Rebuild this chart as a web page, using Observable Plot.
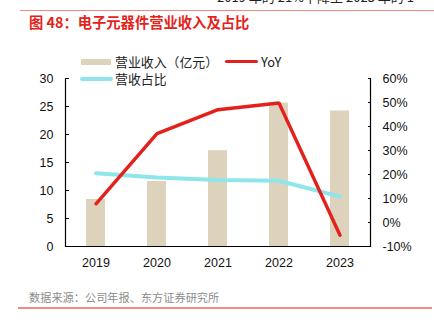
<!DOCTYPE html>
<html>
<head>
<meta charset="utf-8">
<script src="https://cdn.jsdelivr.net/npm/d3@7"></script>
<script src="https://cdn.jsdelivr.net/npm/@observablehq/plot@0.6"></script>
<style>
  html, body { margin: 0; padding: 0; background: #fff; }
  body { width: 434px; height: 326px; position: relative; overflow: hidden;
         font-family: "Liberation Sans", Arial, "Noto Sans CJK SC", sans-serif; }
  .abs { position: absolute; white-space: nowrap; }
  #chart { position: absolute; left: 0; top: 0; }
  .hr { position: absolute; height: 1.5px; background: #f08a84; }
  #title { left: 29px; top: 12px; font-size: 14.3px; font-weight: bold; color: #e3241b;
           font-family: "Noto Sans CJK SC", sans-serif; line-height: 20px; }
  #toptext { left: 217px; top: -10px; font-size: 13px; color: #222; font-family: "Noto Sans CJK SC", sans-serif; line-height: 14px; }
  #source { left: 29px; top: 290px; font-size: 11.2px; color: #8c8c8c; font-family: "Noto Sans CJK SC", sans-serif; line-height: 14px; }
  .legtext { font-size: 12.9px; color: #222; font-family: "Noto Sans CJK SC", sans-serif; line-height: 13px; }
  .sw { position: absolute; }
</style>
</head>
<body>
<div id="toptext" class="abs">2019 年的 21%下降至 2023 年的 1</div>
<div class="hr" style="left:20px; top:9.5px; width:414px;"></div>
<div id="title" class="abs">图 48：电子元器件营业收入及占比</div>
<div id="chart"></div>
<div id="legend"></div>
<div id="source" class="abs">数据来源：公司年报、东方证券研究所</div>
<div class="hr" style="left:18px; top:307px; width:414px;"></div>
<script>
// ---- data ----
const years = ["2019", "2020", "2021", "2022", "2023"];
const revenue = [8.4, 11.6, 17.1, 25.6, 24.2];      // 营业收入（亿元）
const yoy = [7.8, 37.0, 47.0, 49.8, -5.3];          // YoY, %
const share = [20.5, 18.8, 17.7, 17.4, 10.8];       // 营收占比, %
const leftTicks = [0, 5, 10, 15, 20, 25, 30];
const rightTicks = [-10, 0, 10, 20, 30, 40, 50, 60];
const rightTickLabels = ["-10%", "0%", "10%", "20%", "30%", "40%", "50%", "60%"];
const seriesNames = ["营业收入（亿元）", "YoY", "营收占比"];

const colors = { bar: "#ddd3bd", yoy: "#e3201b", share: "#8ee6ea" };

// right axis [-10,60] mapped onto left axis [0,30]
const pct = v => (v + 10) * 30 / 70;

const data = years.map((y, i) => ({ year: y, rev: revenue[i], yoy: pct(yoy[i]), share: pct(share[i]) }));

const W = 434, H = 326;
const mL = 65, mR = 64, mT = 78, mB = 80;
const pw = W - mL - mR, ph = H - mT - mB;

const chart = Plot.plot({
  width: W, height: H,
  marginLeft: mL, marginRight: mR, marginTop: mT, marginBottom: mB,
  style: { fontFamily: "'Liberation Sans', Arial, sans-serif", fontSize: "12px", color: "#111", background: "transparent" },
  x: { type: "band", domain: years, paddingInner: 0.69, paddingOuter: 0.345, label: null },
  y: { domain: [0, 30], label: null },
  marks: [
    Plot.barY(data, { x: "year", y: "rev", fill: colors.bar }),
    Plot.line(data, { x: "year", y: "share", stroke: colors.share, strokeWidth: 4, strokeLinecap: "round" }),
    Plot.line(data, { x: "year", y: "yoy", stroke: colors.yoy, strokeWidth: 3.4, strokeLinecap: "round", strokeLinejoin: "miter" }),
    Plot.frame({ stroke: "#000", strokeWidth: 1.2, strokeDasharray: `0 ${pw} ${2 * ph + pw} 0` }),
    Plot.axisY(leftTicks, { anchor: "left", tickSize: -4, tickPadding: 16, stroke: "#000", fill: "#111", fontSize: 12.5 }),
    Plot.axisY(rightTicks.map(pct), { anchor: "right", tickSize: -3, tickPadding: 15, stroke: "#000", fill: "#111", fontSize: 12.5,
      tickFormat: (d, i) => rightTickLabels[i] }),
    Plot.axisX({ tickSize: 0, tickPadding: 12, fill: "#111", fontSize: 12.5 })
  ]
});
document.getElementById("chart").appendChild(chart);

// ---- legend ----
const legend = document.getElementById("legend");
const items = [
  { name: seriesNames[0], color: colors.bar, x: 81, w: 30, y: 61.5, h: 6, tx: 115 },
  { name: seriesNames[1], color: colors.yoy, x: 225, w: 33, y: 61.5, h: 3.5, tx: 261 },
  { name: seriesNames[2], color: colors.share, x: 80, w: 33, y: 78.5, h: 4, tx: 115 }
];
for (const it of items) {
  const sw = document.createElement("div");
  sw.className = "sw";
  sw.style.cssText = `left:${it.x}px; top:${it.y - it.h / 2}px; width:${it.w}px; height:${it.h}px; background:${it.color}; border-radius:${it.h > 5 ? 0 : it.h / 2}px;`;
  legend.appendChild(sw);
  const t = document.createElement("div");
  t.className = "abs legtext";
  t.style.left = it.tx + "px";
  t.style.top = (it.y - 7) + "px";
  t.textContent = it.name;
  legend.appendChild(t);
}
</script>
</body>
</html>
